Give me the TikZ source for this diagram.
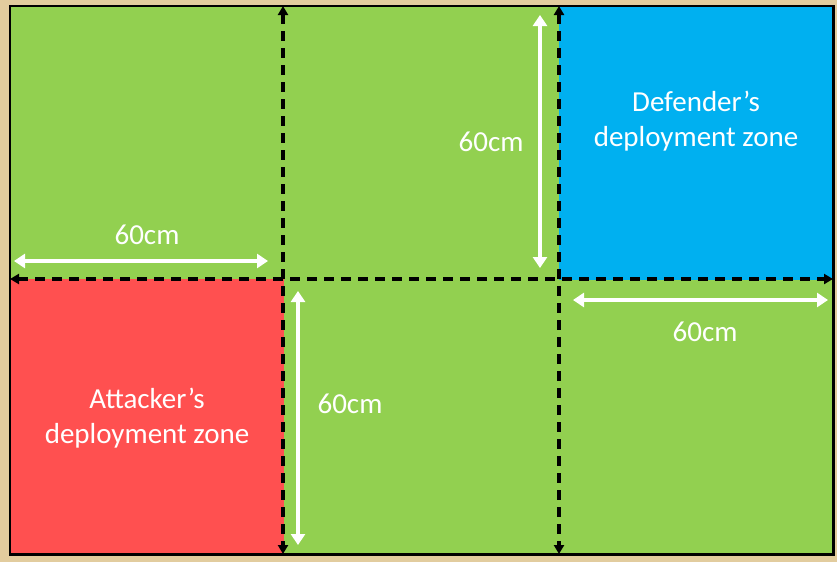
\documentclass[tikz,border=0pt]{standalone}
\usepackage{fontspec}
\setmainfont{Carlito}
\usepackage{xcolor}
\usetikzlibrary{arrows.meta}
\usetikzlibrary{positioning}

\definecolor{sand}{HTML}{E2CC9E}
\definecolor{grass}{HTML}{92D050}
\definecolor{attred}{HTML}{FF5050}
\definecolor{defblue}{HTML}{00B0F0}

\begin{document}
\begin{tikzpicture}[x=1pt,y=-1pt,semithick]
	\tikzstyle{zone}=[draw=none, inner sep=0pt, minimum width=274pt, minimum height=275pt]
	\tikzstyle{lbl}=[text=white, font=\fontsize{29}{35}\selectfont, align=center, inner sep=0pt]
	\tikzstyle{measure}=[draw=white, line width=4pt, {Triangle[length=11pt,width=14pt]}-{Triangle[length=11pt,width=14pt]}]
	\tikzstyle{split}=[draw=black, line width=3.2pt, dash pattern=on 10pt off 7pt, {Triangle[length=9pt,width=10pt]}-{Triangle[length=9pt,width=10pt]}]
	% background and board
	\fill[sand] (0,0) rectangle (837,562);
	\node[zone, fill=grass, minimum width=823pt, minimum height=548pt] (board) at (421.5,280) {};
	\node[zone, fill=attred] (att) at (146.5,416.5) {};
	\node[zone, fill=defblue] (def) at (696,142.5) {};
	\draw[line width=2.4pt] (board.north west) rectangle (board.south east);
	% zone names
	\node[lbl] (attname) at (147,418) {Attacker’s\\deployment zone};
	\node[lbl] (defname) at (696,121) {Defender’s\\deployment zone};
	% dividers
	\coordinate (v1t) at (283,6);
	\coordinate (v1b) at (283,554);
	\coordinate (v2t) at (559,6);
	\coordinate (v2b) at (559,554);
	\coordinate (hl) at (10,279);
	\coordinate (hr) at (833,279);
	\draw[split] (v1t) -- (v1b);
	\draw[split] (v2t) -- (v2b);
	\draw[split] (hl) -- (hr);
	% measures
	\coordinate (m1a) at (14,261);
	\coordinate (m1b) at (268,261);
	\coordinate (m2a) at (540,15);
	\coordinate (m2b) at (540,268);
	\coordinate (m3a) at (573,300);
	\coordinate (m3b) at (828,300);
	\coordinate (m4a) at (298,291);
	\coordinate (m4b) at (298,545);
	\draw[measure] (m1a) -- (m1b);
	\draw[measure] (m2a) -- (m2b);
	\draw[measure] (m3a) -- (m3b);
	\draw[measure] (m4a) -- (m4b);
	\node[lbl] (d1) at (147,235) {60cm};
	\node[lbl] (d2) at (491,142) {60cm};
	\node[lbl] (d3) at (705,332) {60cm};
	\node[lbl] (d4) at (350,404) {60cm};
\end{tikzpicture}
\end{document}
